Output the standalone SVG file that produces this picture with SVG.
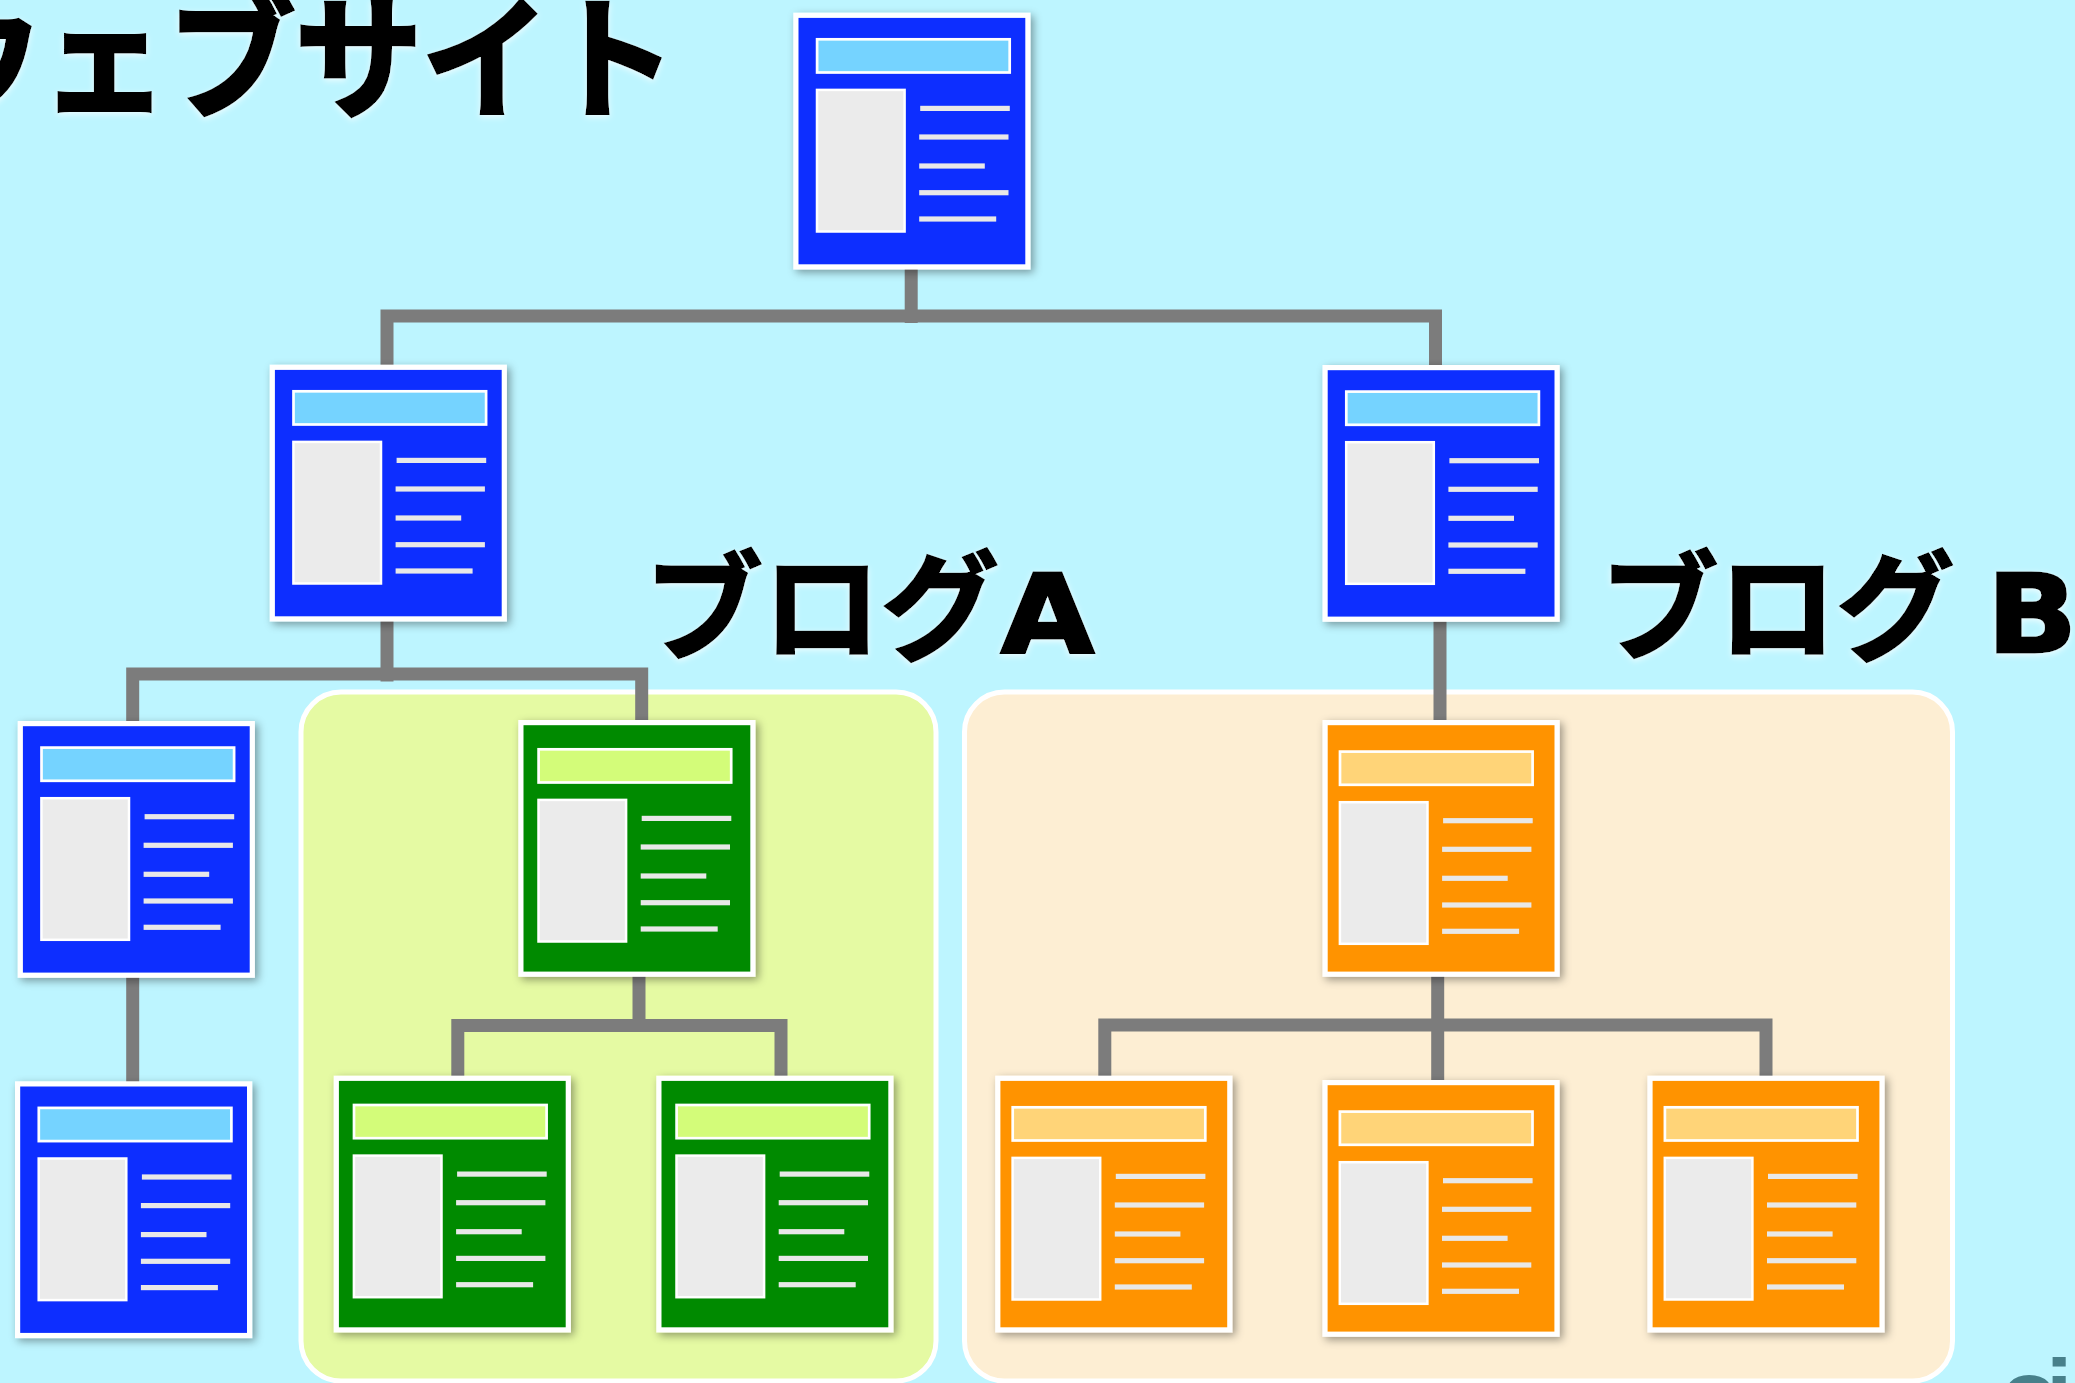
<svg xmlns="http://www.w3.org/2000/svg" width="2075" height="1383" viewBox="0 0 2075 1383">
<style>
.bg{fill:#BDF5FF}
.panel{stroke:#fff;stroke-width:5}
.conn{fill:none;stroke:#7C7C7C;stroke-width:13;stroke-linejoin:miter}
.page{stroke:#fff;stroke-width:5.2;fill:var(--p);filter:url(#ds)}
.hdr{stroke:#fff;stroke-width:2.7;fill:var(--h)}
.img{fill:#EBEBEB;stroke:#fff;stroke-width:2.5}
.ln{fill:#E8E8E8}
.blue{--p:#0B2FFF;--h:#75D3FF}
.green{--p:#008A00;--h:#D3FC79}
.orange{--p:#FF9300;--h:#FFD478}
.t{font-family:"Noto Sans CJK JP","Noto Sans",sans-serif;font-weight:700;fill:#000;stroke:#000;stroke-width:2.5;filter:url(#glow)}
.l{font-family:"DejaVu Sans",sans-serif;font-weight:700;stroke:#000;stroke-width:3}
.wm{font-family:"Liberation Sans",sans-serif;font-weight:700;font-size:95px;fill:#47808B;letter-spacing:-12px}
</style>
<defs>
<filter id="ds" x="-10%" y="-10%" width="125%" height="125%"><feDropShadow dx="3" dy="3" stdDeviation="4" flood-color="#000" flood-opacity=".38"/></filter>
<filter id="glow" x="-5%" y="-10%" width="110%" height="125%"><feDropShadow dx="0" dy="2" stdDeviation="3" flood-color="#fff" flood-opacity=".75"/></filter>
<g id="content">
<rect class="hdr" x="1.3" y="1.3" width="192.6" height="33.2"/>
<rect class="img" x="1.2" y="51.9" width="87.6" height="141.6"/>
<rect class="ln" x="104.4" y="67.8" width="89.6" height="5.2"/>
<rect class="ln" x="103.4" y="96.4" width="89.3" height="5.2"/>
<rect class="ln" x="103.4" y="125.4" width="65.6" height="5.2"/>
<rect class="ln" x="103.4" y="152.1" width="89.3" height="5.2"/>
<rect class="ln" x="103.4" y="178.4" width="77" height="5.2"/>
</g>
<g id="pb"><rect class="page" x="2.6" y="2.6" width="232" height="251.6"/><use href="#content" x="22.5" y="25.3"/></g>
<g id="pg"><rect class="page" x="2.6" y="2.6" width="232" height="251.6"/><use href="#content" x="19" y="28"/></g>
<g id="po"><rect class="page" x="2.6" y="2.6" width="232" height="251.6"/><use href="#content" x="16.2" y="30.3"/></g>
</defs>
<rect class="bg" width="2075" height="1383"/>
<g id="panels">
<rect id="panel-a" class="panel" x="301" y="692" width="635" height="689" rx="40" fill="#E5FAA3"/>
<rect id="panel-b" class="panel" x="964.5" y="692" width="988" height="689" rx="40" fill="#FDEED3"/>
</g>
<g id="labels">
<text id="title" class="t" transform="translate(-86 107) scale(1 1.04)" font-size="127" stroke-width="4" style="stroke-width:4">ウェブサイト</text>
<text id="blog-a" class="t" x="644.7" y="651" font-size="118">ブログ<tspan class="l" x="1001" y="651.7" font-size="108" textLength="93" lengthAdjust="spacingAndGlyphs">A</tspan></text>
<text id="blog-b" class="t" x="1600.3" y="651" font-size="118">ブログ <tspan class="l" x="1987" y="651.7" font-size="108" textLength="90" lengthAdjust="spacingAndGlyphs">B</tspan></text>
<text id="mark" class="wm" x="2000" y="1426">oi</text>
</g>
<g id="connectors">
<path class="conn" d="M911.2 268V323"/>
<path class="conn" d="M387 366V316H1435.5V366"/>
<path class="conn" d="M387 620V681.5"/>
<path class="conn" d="M132.7 722V674H641.7V722"/>
<path class="conn" d="M1440 620V722"/>
<path class="conn" d="M132.7 976V1083"/>
<path class="conn" d="M639 975V1026"/>
<path class="conn" d="M457.8 1077V1025.6H781V1077"/>
<path class="conn" d="M1437.7 975V1082"/>
<path class="conn" d="M1104.8 1077V1025H1766V1077"/>
</g>
<g id="node-root" class="blue" transform="translate(793.3 12.7)"><use href="#pb"/></g>
<g id="node-l2a" class="blue" transform="translate(269.7 364.7)"><use href="#pb"/></g>
<g id="node-l2b" class="blue" transform="translate(1322.5 365)"><use href="#pb"/></g>
<g id="node-l3a" class="blue" transform="translate(17.7 721)"><use href="#pb"/></g>
<g id="node-l4a" class="blue" transform="translate(15 1081.3)"><use href="#pb"/></g>
<g id="node-a" class="green" transform="translate(518.3 720)"><use href="#pg"/></g>
<g id="node-a1" class="green" transform="translate(333.7 1075.7)"><use href="#pg"/></g>
<g id="node-a2" class="green" transform="translate(656.3 1075.7)"><use href="#pg"/></g>
<g id="node-b" class="orange" transform="translate(1322.5 720)"><use href="#po"/></g>
<g id="node-b1" class="orange" transform="translate(995.2 1075.7)"><use href="#po"/></g>
<g id="node-b2" class="orange" transform="translate(1322.4 1080)"><use href="#po"/></g>
<g id="node-b3" class="orange" transform="translate(1647.4 1075.7)"><use href="#po"/></g>
</svg>
